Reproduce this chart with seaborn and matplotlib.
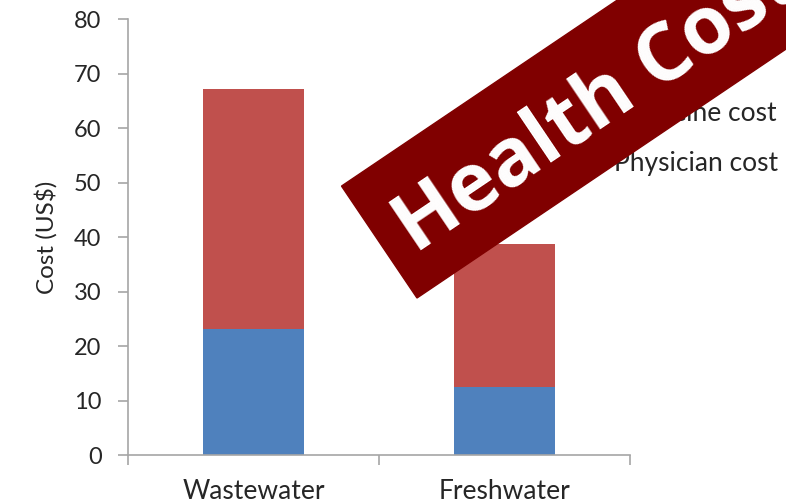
import seaborn as sns
import matplotlib.pyplot as plt
import matplotlib.patches as mpatches
from matplotlib.ticker import FixedLocator
import pandas as pd

categories = ["Wastewater", "Freshwater"]
physician_cost = [23.1, 12.4]
medicine_cost = [44.1, 26.3]
series_names = ["Medicine cost", "Physician cost"]
y_ticks = [0, 10, 20, 30, 40, 50, 60, 70, 80]

BLUE = "#4F81BD"
RED = "#C0504D"
BANNER = "#800000"
AXIS_GRAY = "#A6A6A6"

sns.set_style("white")
plt.rcParams["font.family"] = ["Lato", "DejaVu Sans"]

df = pd.DataFrame({
    "category": categories,
    "physician": physician_cost,
    "total": [p + m for p, m in zip(physician_cost, medicine_cost)],
})

fig = plt.figure(figsize=(7.86, 5.04), dpi=100)
ax = fig.add_axes([0.1628, 0.0972, 0.6387, 0.865])

sns.barplot(data=df, x="category", y="total", color=RED, width=0.4,
            saturation=1, ax=ax, linewidth=0)
sns.barplot(data=df, x="category", y="physician", color=BLUE, width=0.4,
            saturation=1, ax=ax, linewidth=0)

ax.set_xlim(-0.5, 1.5)
ax.set_ylim(0, 80)
ax.set_yticks(y_ticks)
ax.set_xlabel("")
ax.set_ylabel("Cost (US$)", fontsize=17.5, labelpad=12)

for side in ["top", "right"]:
    ax.spines[side].set_visible(False)
for side in ["left", "bottom"]:
    ax.spines[side].set_color(AXIS_GRAY)
    ax.spines[side].set_linewidth(1.2)

ax.tick_params(axis="y", which="major", length=7, width=1.2, color=AXIS_GRAY,
               direction="out", pad=12, labelsize=17, left=True)
ax.tick_params(axis="x", which="major", length=0, pad=17, labelsize=19)
ax.xaxis.set_minor_locator(FixedLocator([-0.5, 0.5, 1.5]))
ax.tick_params(axis="x", which="minor", length=7, width=1.2,
               color=AXIS_GRAY, direction="out", bottom=True)

handles = [mpatches.Patch(color=RED), mpatches.Patch(color=BLUE)]
fig.legend(handles, series_names, loc="center left",
           bbox_to_anchor=(0.732, 0.725), frameon=False, fontsize=19,
           handlelength=0.5, handleheight=0.5, handletextpad=0.45,
           labelspacing=0.95, borderpad=0)

# banner across the top right corner
banner = mpatches.Rectangle((4.17, 2.06), 7.0, 1.35, angle=34,
                            transform=fig.dpi_scale_trans, color=BANNER,
                            zorder=10)
fig.patches.append(banner)
fig.text(4.15, 2.5, "Health Cost", transform=fig.dpi_scale_trans,
         rotation=34, rotation_mode="anchor", ha="left", va="baseline",
         color="white", fontsize=58, fontweight="bold",
         family=["Open Sans", "DejaVu Sans"], zorder=11)

plt.savefig("out.png", dpi=100)
